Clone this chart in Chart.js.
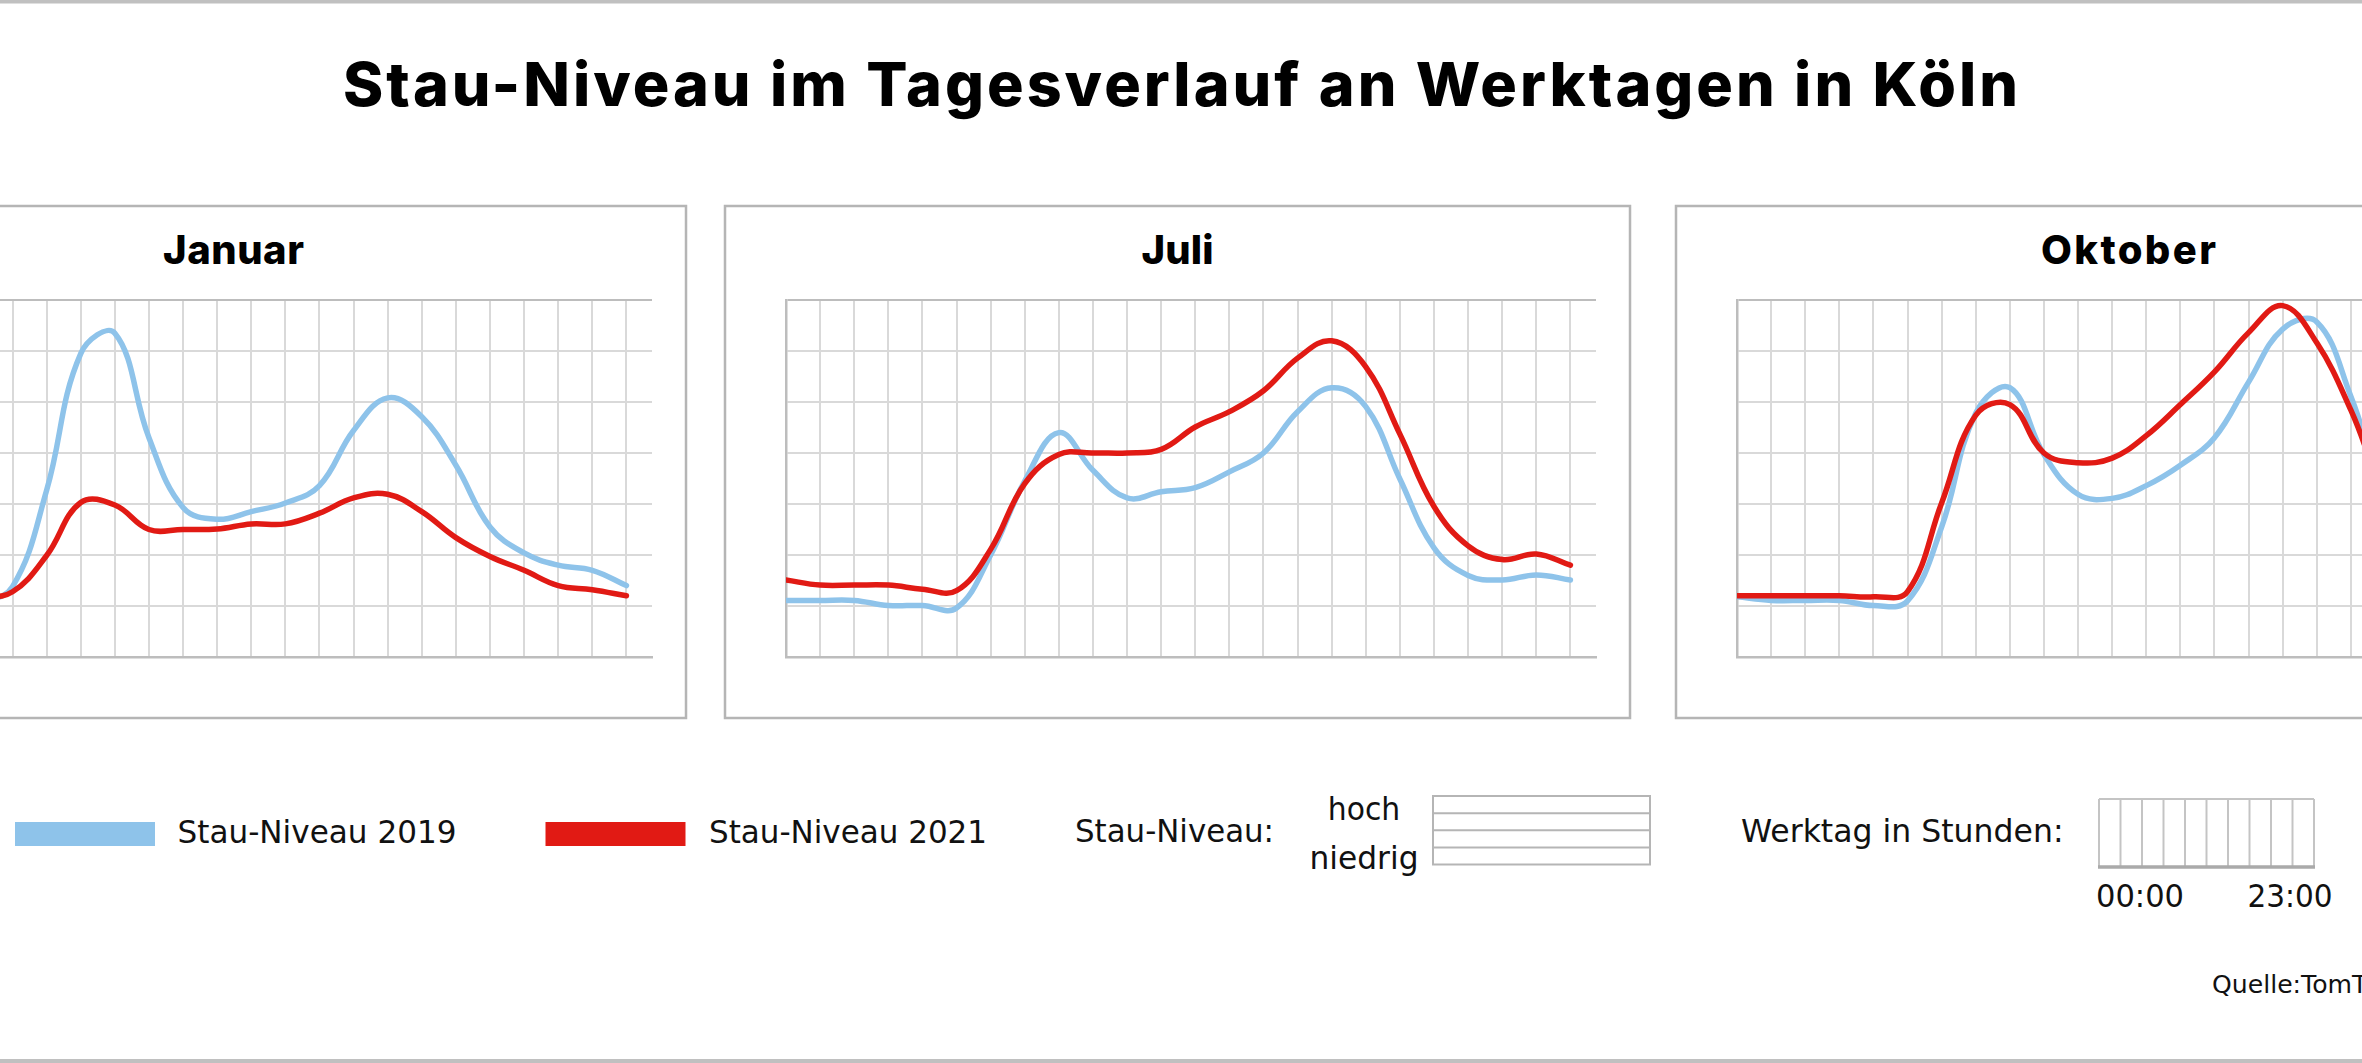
<!DOCTYPE html>
<html lang="de">
<head>
<meta charset="utf-8">
<title>Stau-Niveau im Tagesverlauf an Werktagen in Köln</title>
<script src="https://cdn.jsdelivr.net/npm/chart.js@4.4.1/dist/chart.umd.min.js"></script>
<style>
  html, body { margin: 0; padding: 0; background: #fff; }
  #page { position: relative; width: 2362px; height: 1063px; overflow: hidden; background: #fff; }
  #overlay { position: absolute; left: 0; top: 0; }
  #page canvas { position: absolute; }
  .cond { font-family: "DejaVu Sans", sans-serif; fill: #111; }
  .bold { font-family: Inter, Lato, "Noto Sans", sans-serif; font-weight: 800; fill: #000; }
</style>
</head>
<body>
<div id="page">
  <svg id="overlay" width="2362" height="1063" xmlns="http://www.w3.org/2000/svg">
    <rect x="0" y="0" width="2362" height="3.5" fill="#c0c0c0"/>
    <rect x="0" y="1059" width="2362" height="4" fill="#c0c0c0"/>
    <text class="bold" x="1180.5" y="106" font-size="61" text-anchor="middle"
          textLength="1675" lengthAdjust="spacing">Stau-Niveau im Tagesverlauf an Werktagen in Köln</text>
    <g id="panels"></g>
    <g id="legend"></g>
  </svg>
</div>
<script>
// hours of a working day (x axis)
const hours = [0, 1, 2, 3, 4, 5, 6, 7, 8, 9, 10, 11, 12, 13, 14, 15, 16, 17, 18, 19, 20, 21, 22, 23];

const months = ["Januar", "Juli", "Oktober"];
const seriesLabels = ["Stau-Niveau 2019", "Stau-Niveau 2021"];

// congestion level per hour
const januar2019 = [10, 9, 9, 9, 10.5, 13.8, 32.7, 59.5, 63.5, 43, 29.3, 27, 28.5, 30.2, 33.6, 44.4, 50.8, 47.1, 37.6, 25.5, 20.4, 18, 17, 14];
const januar2021 = [11, 10.5, 10.5, 10.5, 11.5, 12.8, 19.9, 30.3, 29.8, 25, 25, 25.1, 26.1, 26.1, 28.2, 31.2, 31.9, 28.5, 23.4, 19.7, 17, 14, 13.2, 12];
const juli2019 = [11.1, 11.1, 11.1, 10.1, 10.1, 9.6, 20, 34.5, 44, 36.6, 31.2, 32.4, 33.2, 36.3, 40, 48.1, 52.8, 49.1, 34.9, 21.4, 16, 15.1, 16.1, 15.1];
const juli2021 = [15.1, 14.1, 14.1, 14.1, 13.3, 13, 21.1, 34, 39.7, 40, 40, 40.7, 45.1, 48.1, 52.2, 58.6, 62, 56.9, 43.7, 29.5, 21.8, 19.1, 20.2, 18];
const oktober2019 = [11.8, 11.1, 11.1, 11.1, 10.1, 11, 25.5, 47.8, 52.8, 39.7, 31.9, 31.1, 33.6, 37.6, 43, 53.9, 64.3, 65.7, 51.1, 32, 22, 18, 17, 15];
const oktober2021 = [12, 12, 12, 12, 11.8, 12.8, 30.2, 47.4, 49.5, 40, 38.1, 39, 43.4, 49.5, 55.9, 63.6, 68.9, 61.6, 48.4, 32, 23, 19.5, 18.5, 16.5];

const yMin = 0, yMax = 70, yStep = 10;

const BLUE = "#8ec3ea";
const RED = "#e11a14";
const GRID = "#d9d9d9";
const AXIS = "#bdbdbd";
const FRAME = "#b5b5b5";

// panel layout (px)
const panelLefts = [-219, 725, 1676];
const PANEL_TOP = 206, PANEL_W = 905, PANEL_H = 512;
const PLOT_X = 61, PLOT_Y = 94, PLOT_W = 810, PLOT_H = 357;
const PAD = 12;
const X_MAX = 23.75;

const SVG_NS = "http://www.w3.org/2000/svg";
function svgEl(parent, tag, attrs, text) {
    const el = document.createElementNS(SVG_NS, tag);
    for (const k in attrs) el.setAttribute(k, attrs[k]);
    if (text !== undefined) el.textContent = text;
    parent.appendChild(el);
    return el;
}

// condensed legend text: DejaVu Sans squeezed to the width seen in the picture
function condText(parent, x, y, size, width, str, anchor) {
    const attrs = { class: "cond", x: x, y: y, "font-size": size };
    if (width) { attrs.textLength = width; attrs.lengthAdjust = "spacingAndGlyphs"; }
    if (anchor) attrs["text-anchor"] = anchor;
    return svgEl(parent, "text", attrs, str);
}

const panelValues = [
    [januar2019, januar2021],
    [juli2019, juli2021],
    [oktober2019, oktober2021]
];
const titleWidths = [141, 72, 175];

const page = document.getElementById("page");
const panelsG = document.getElementById("panels");

months.forEach((month, p) => {
    const left = panelLefts[p];

    // frame + title
    svgEl(panelsG, "rect", {
        x: left, y: PANEL_TOP, width: PANEL_W, height: PANEL_H,
        fill: "none", stroke: FRAME, "stroke-width": 2.5
    });
    svgEl(panelsG, "text", {
        class: "bold", x: left + PANEL_W / 2, y: PANEL_TOP + 58, "font-size": 40,
        "text-anchor": "middle", textLength: titleWidths[p], lengthAdjust: "spacing"
    }, month);

    const canvas = document.createElement("canvas");
    canvas.width = PLOT_W + 2 * PAD;
    canvas.height = PLOT_H + 2 * PAD;
    canvas.style.left = (left + PLOT_X - PAD) + "px";
    canvas.style.top = (PANEL_TOP + PLOT_Y - PAD) + "px";
    canvas.style.width = canvas.width + "px";
    canvas.style.height = canvas.height + "px";
    page.appendChild(canvas);

    const [v2019, v2021] = panelValues[p];

    new Chart(canvas, {
        type: "line",
        data: {
            datasets: [
                {
                    label: seriesLabels[0],
                    data: hours.map((h, i) => ({ x: h, y: v2019[i] })),
                    borderColor: BLUE,
                    order: 1
                },
                {
                    label: seriesLabels[1],
                    data: hours.map((h, i) => ({ x: h, y: v2021[i] })),
                    borderColor: RED,
                    order: 0
                }
            ]
        },
        options: {
            responsive: false,
            animation: false,
            events: [],
            layout: { padding: PAD, autoPadding: false },
            plugins: {
                legend: { display: false },
                title: { display: false },
                tooltip: { enabled: false }
            },
            elements: {
                point: { radius: 0 },
                line: {
                    borderWidth: 5.5,
                    tension: 0.4,
                    fill: false,
                    borderJoinStyle: "round",
                    borderCapStyle: "round"
                }
            },
            scales: {
                x: {
                    type: "linear",
                    min: 0,
                    max: X_MAX,
                    ticks: { display: false, stepSize: 1, includeBounds: false },
                    grid: {
                        drawTicks: false,
                        lineWidth: 2,
                        color: ctx => (ctx.tick && ctx.tick.value === 0 ? AXIS : GRID)
                    },
                    border: { color: AXIS, width: 2.5 },
                    afterFit: s => { s.height = 0; }
                },
                y: {
                    min: yMin,
                    max: yMax,
                    ticks: { display: false, stepSize: yStep, includeBounds: false },
                    grid: {
                        drawTicks: false,
                        lineWidth: 2,
                        color: ctx => (ctx.tick && (ctx.tick.value === yMax || ctx.tick.value === yMin) ? AXIS : GRID)
                    },
                    border: { color: AXIS, width: 2.5 },
                    afterFit: s => { s.width = 0; }
                }
            }
        }
    });
});

// legend row
const lg = document.getElementById("legend");
svgEl(lg, "rect", { x: 15, y: 822, width: 140, height: 24, fill: BLUE });
condText(lg, 177.5, 842.5, 31.5, 279, seriesLabels[0]);
svgEl(lg, "rect", { x: 545.5, y: 822, width: 140, height: 24, fill: RED });
condText(lg, 709, 842.5, 31.5, 278, seriesLabels[1]);

condText(lg, 1075, 842, 31.5, 199, "Stau-Niveau:");
condText(lg, 1364, 820, 31.5, 72.5, "hoch", "middle");
condText(lg, 1364, 869, 31.5, 109, "niedrig", "middle");

// level key: box with four rows
const boxX = 1433, boxY = 796, boxW = 217, boxH = 68.5;
svgEl(lg, "rect", { x: boxX, y: boxY, width: boxW, height: boxH, fill: "none", stroke: FRAME, "stroke-width": 2 });
for (let r = 1; r < 4; r++) {
    const yy = boxY + r * boxH / 4;
    svgEl(lg, "line", { x1: boxX, x2: boxX + boxW, y1: yy, y2: yy, stroke: FRAME, "stroke-width": 2 });
}

condText(lg, 1741, 842, 31.5, 322.5, "Werktag in Stunden:");

// hours key: box with ten columns
const hbX = 2099, hbY = 799, hbW = 215, hbH = 68;
for (let c = 0; c <= 10; c++) {
    const xx = hbX + c * hbW / 10;
    svgEl(lg, "line", { x1: xx, x2: xx, y1: hbY, y2: hbY + hbH, stroke: "#c4c4c4", "stroke-width": 2 });
}
svgEl(lg, "line", { x1: hbX, x2: hbX + hbW, y1: hbY, y2: hbY, stroke: "#c4c4c4", "stroke-width": 2 });
svgEl(lg, "line", { x1: hbX - 1, x2: hbX + hbW + 1, y1: hbY + hbH, y2: hbY + hbH, stroke: "#aaaaaa", "stroke-width": 3.5 });

condText(lg, 2096, 906.5, 31.5, 88, "00:00");
condText(lg, 2247.5, 906.5, 31.5, 85, "23:00");

condText(lg, 2212, 993, 25.5, 191, "Quelle:TomTom");
</script>
</body>
</html>
